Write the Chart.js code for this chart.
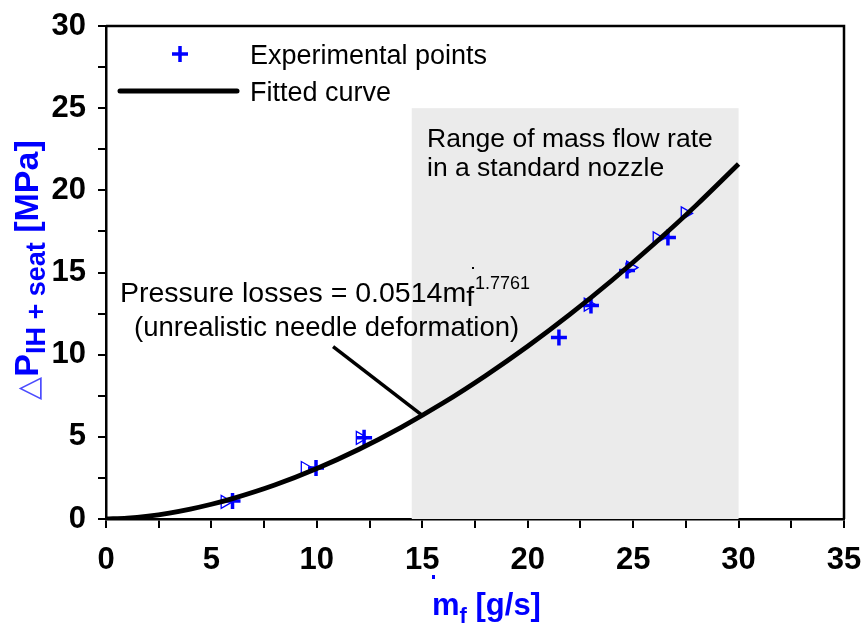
<!DOCTYPE html>
<html>
<head>
<meta charset="utf-8">
<script src="https://cdn.jsdelivr.net/npm/chart.js@4/dist/chart.umd.min.js"></script>
<style>
    html, body { margin: 0; padding: 0; background: #fff; }
    #wrap { width: 868px; height: 629px; position: relative; }
</style>
</head>
<body>
<div id="wrap"><canvas id="chart" width="868" height="629"></canvas></div>
<script>
// fitted curve (pressure losses vs mass flow)
const fitX = [0, 1, 2, 3, 4, 5, 6, 8, 10, 12, 14, 16, 18, 20, 22, 24, 26, 28, 30];
const fitY = [0, 0.051, 0.176, 0.362, 0.603, 0.896, 1.239, 2.065, 3.070, 4.244, 5.580, 7.07, 8.72, 10.51, 12.45, 14.53, 16.75, 19.10, 21.60];

// experimental points (+ markers)
const crossX = [6.0, 9.96, 12.24, 21.48, 23.0, 24.71, 26.65];
const crossY = [1.10, 3.11, 4.94, 11.04, 12.99, 15.12, 17.13];

// open triangle markers
const triX = [5.64, 9.44, 12.05, 22.86, 24.87, 26.13, 27.46];
const triY = [1.04, 3.1, 4.94, 13.05, 15.3, 17.07, 18.6];

// shaded range of mass flow rate [xmin, xmax, ymin, ymax]
const rangeBox = [14.5, 30, 0, 25];
// annotation arrow [x0, y0, x1, y1]
const pointer = [10.77, 10.49, 15.0, 6.3];

const xTicks = [0, 5, 10, 15, 20, 25, 30, 35];
const yTicks = [0, 5, 10, 15, 20, 25, 30];

const BLUE = '#0000ff';
const FONT = '"Liberation Sans", Arial, sans-serif';

function pts(xs, ys) {
    return xs.map((x, i) => ({ x: x, y: ys[i] }));
}

// keep the plot box where the original has it, whatever the label sizes
function noPad(scale) {
    scale.paddingTop = 0;
    scale.paddingBottom = 0;
    scale.paddingLeft = 0;
    scale.paddingRight = 0;
}

const decorPlugin = {
    id: 'decor',
    beforeDatasetsDraw(chart) {
        const ctx = chart.ctx;
        const xs = chart.scales.x, ys = chart.scales.y;
        const l = xs.getPixelForValue(rangeBox[0]);
        const r = xs.getPixelForValue(rangeBox[1]);
        const t = ys.getPixelForValue(rangeBox[3]);
        const b = ys.getPixelForValue(rangeBox[2]);
        ctx.save();
        ctx.fillStyle = '#ebebeb';
        ctx.fillRect(l, t, r - l, b - t);
        ctx.restore();
    },
    afterDatasetsDraw(chart) {
        const ctx = chart.ctx;
        const xs = chart.scales.x, ys = chart.scales.y;
        const area = chart.chartArea;
        ctx.save();

        // frame top and right
        ctx.strokeStyle = '#000';
        ctx.lineWidth = 2.5;
        ctx.beginPath();
        ctx.moveTo(area.left, area.top);
        ctx.lineTo(area.right, area.top);
        ctx.lineTo(area.right, area.bottom);
        ctx.stroke();

        // arrow line
        ctx.lineWidth = 3.5;
        ctx.beginPath();
        ctx.moveTo(xs.getPixelForValue(pointer[0]), ys.getPixelForValue(pointer[1]));
        ctx.lineTo(xs.getPixelForValue(pointer[2]), ys.getPixelForValue(pointer[3]));
        ctx.stroke();

        // stray specks in the original
        ctx.fillStyle = '#000';
        ctx.fillRect(472, 267, 2, 2);
        ctx.fillStyle = BLUE;
        ctx.fillRect(432, 575, 3, 4);

        // legend
        ctx.strokeStyle = BLUE;
        ctx.lineWidth = 3.5;
        ctx.beginPath();
        ctx.moveTo(172, 54); ctx.lineTo(188, 54);
        ctx.moveTo(180, 46); ctx.lineTo(180, 62);
        ctx.stroke();
        ctx.strokeStyle = '#000';
        ctx.lineWidth = 5;
        ctx.lineCap = 'round';
        ctx.beginPath();
        ctx.moveTo(120, 91); ctx.lineTo(237, 91);
        ctx.stroke();

        ctx.fillStyle = '#000';
        ctx.textBaseline = 'alphabetic';
        ctx.textAlign = 'left';
        ctx.font = '27px ' + FONT;
        ctx.fillText('Experimental points', 250, 64);
        ctx.fillText('Fitted curve', 250, 101);

        ctx.font = '26.5px ' + FONT;
        ctx.fillText('Range of mass flow rate', 427, 147);
        ctx.fillText('in a standard nozzle', 427, 176);

        ctx.font = '28.5px ' + FONT;
        let s = 'Pressure losses = 0.0514m';
        ctx.fillText(s, 120, 302);
        let w = ctx.measureText(s).width;
        ctx.fillText('f', 120 + w, 306);
        let wf = ctx.measureText('f').width;
        ctx.font = '18px ' + FONT;
        ctx.fillText('1.7761', 120 + w + wf + 1, 289);
        ctx.font = '27.5px ' + FONT;
        ctx.fillText('(unrealistic needle deformation)', 134, 336);

        // x axis title
        ctx.fillStyle = BLUE;
        const m = 'm', rest = ' [g/s]';
        ctx.font = 'bold 31px ' + FONT;
        const wm = ctx.measureText(m).width;
        ctx.font = 'bold 22px ' + FONT;
        const wsub = ctx.measureText('f').width;
        let x0 = 432;
        ctx.font = 'bold 31px ' + FONT;
        ctx.fillText(m, x0, 615);
        ctx.font = 'bold 22px ' + FONT;
        ctx.fillText('f', x0 + wm, 623);
        ctx.font = 'bold 31px ' + FONT;
        ctx.fillText(rest, x0 + wm + wsub, 615);

        // y axis title (rotated)
        ctx.translate(38, 270);
        ctx.rotate(-Math.PI / 2);
        const parts = [
            { t: '\u25B3', f: '30px ' + FONT, dy: 0, c: '#4a4aff' },
            { t: 'P', f: 'bold 34px ' + FONT, dy: 0, c: BLUE },
            { t: 'IH + seat', f: 'bold 27px ' + FONT, dy: 7, c: BLUE },
            { t: ' [MPa]', f: 'bold 34px ' + FONT, dy: 0, c: BLUE }
        ];
        let total = 0;
        parts.forEach(p => { ctx.font = p.f; p.w = ctx.measureText(p.t).width; total += p.w; });
        let px = -total / 2;
        parts.forEach(p => {
            ctx.font = p.f;
            ctx.fillStyle = p.c;
            ctx.fillText(p.t, px, p.dy);
            px += p.w;
        });
        ctx.restore();
    }
};

const ctx = document.getElementById('chart').getContext('2d');
new Chart(ctx, {
    type: 'scatter',
    data: {
        datasets: [
            {
                label: 'Fitted curve',
                type: 'line',
                data: pts(fitX, fitY),
                borderColor: '#000',
                borderWidth: 4.8,
                pointRadius: 0,
                cubicInterpolationMode: 'monotone',
                fill: false
            },
            {
                label: 'Triangles',
                data: pts(triX, triY),
                pointStyle: 'triangle',
                rotation: 90,
                pointRadius: 7.5,
                borderColor: BLUE,
                backgroundColor: 'rgba(0,0,0,0)',
                borderWidth: 1.3
            },
            {
                label: 'Experimental points',
                data: pts(crossX, crossY),
                pointStyle: 'cross',
                pointRadius: 8,
                borderColor: BLUE,
                borderWidth: 3.5
            }
        ]
    },
    options: {
        responsive: false,
        animation: false,
        devicePixelRatio: 1,
        layout: { padding: { top: 26, right: 24, left: 0, bottom: 0 } },
        plugins: {
            legend: { display: false },
            tooltip: { enabled: false }
        },
        scales: {
            x: {
                type: 'linear',
                min: 0,
                max: 35,
                afterFit: scale => { scale.height = 110; noPad(scale); },
                afterBuildTicks: scale => {
                    const t = [];
                    for (let v = 0; v <= 35; v += 2.5) t.push({ value: v });
                    scale.ticks = t;
                },
                ticks: {
                    color: '#000',
                    font: { family: FONT, size: 31, weight: 'bold' },
                    padding: 14,
                    maxRotation: 0,
                    autoSkip: false,
                    callback: v => xTicks.includes(v) ? String(v) : ''
                },
                grid: { drawOnChartArea: false, drawTicks: true, tickLength: 9, color: '#000', lineWidth: 2 },
                border: { display: true, color: '#000', width: 2.5 }
            },
            y: {
                type: 'linear',
                min: 0,
                max: 30,
                afterFit: scale => { scale.width = 106; noPad(scale); },
                afterBuildTicks: scale => {
                    const t = [];
                    for (let v = 0; v <= 30; v += 2.5) t.push({ value: v });
                    scale.ticks = t;
                },
                ticks: {
                    color: '#000',
                    font: { family: FONT, size: 31, weight: 'bold' },
                    padding: 12,
                    autoSkip: false,
                    callback: v => yTicks.includes(v) ? String(v) : ''
                },
                grid: { drawOnChartArea: false, drawTicks: true, tickLength: 8, color: '#000', lineWidth: 2 },
                border: { display: true, color: '#000', width: 2.5 }
            }
        }
    },
    plugins: [decorPlugin]
});
</script>
</body>
</html>
